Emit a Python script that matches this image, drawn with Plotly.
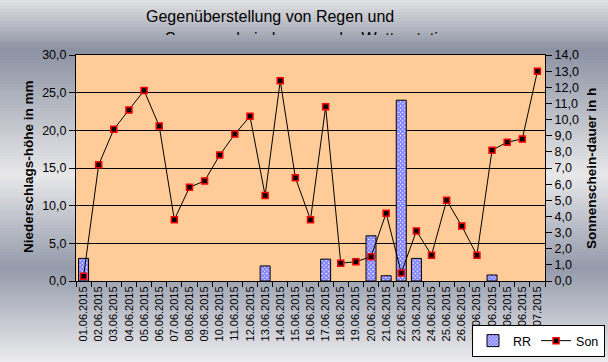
import plotly.graph_objects as go

dates = ["01.06.2015", "02.06.2015", "03.06.2015", "04.06.2015", "05.06.2015",
         "06.06.2015", "07.06.2015", "08.06.2015", "09.06.2015", "10.06.2015",
         "11.06.2015", "12.06.2015", "13.06.2015", "14.06.2015", "15.06.2015",
         "16.06.2015", "17.06.2015", "18.06.2015", "19.06.2015", "20.06.2015",
         "21.06.2015", "22.06.2015", "23.06.2015", "24.06.2015", "25.06.2015",
         "26.06.2015", "27.06.2015", "28.06.2015", "29.06.2015", "30.06.2015",
         "01.07.2015"]
rr = [3.0, 0, 0, 0, 0, 0, 0, 0, 0, 0, 0, 0, 2.0, 0, 0, 0, 2.9, 0, 0, 6.0,
      0.7, 24.0, 3.0, 0, 0, 0, 0, 0.8, 0, 0, 0]
son = [0.3, 7.2, 9.4, 10.6, 11.8, 9.6, 3.8, 5.8, 6.2, 7.8, 9.1, 10.2, 5.3, 12.4,
       6.4, 3.8, 10.8, 1.1, 1.2, 1.5, 4.2, 0.5, 3.1, 1.6, 5.0, 3.4, 1.6, 8.1,
       8.6, 8.8, 13.0]
title1 = "Gegenüberstellung von Regen und"
title2 = "Sonnenscheindauer an der Wetterstation"

W, H = 608, 362
ML, MR, MT, MB = 76, 63, 20, 81
PW = W - ML - MR
PH = H - MT - MB
FONT = "Liberation Sans, Arial, sans-serif"


def px2py(py):
    return 1 - (py - MT) / PH


def px2px(px):
    return (px - ML) / PW


main_top = px2py(55)

# background gradient (styling)
stops = [(0, (226, 226, 228)), (50, (140, 146, 162)), (175, (232, 232, 234)),
         (268, (148, 154, 170)), (362, (236, 236, 238))]


def grad(y):
    for (y0, c0), (y1, c1) in zip(stops[:-1], stops[1:]):
        if y0 <= y <= y1:
            t = (y - y0) / (y1 - y0)
            return "rgb(%d,%d,%d)" % tuple(round(a + (b - a) * t) for a, b in zip(c0, c1))
    return "rgb(236,236,238)"


shapes = []
step = 3
for y in range(0, H, step):
    shapes.append(dict(type="rect", xref="paper", yref="paper", layer="below",
                       x0=px2px(-2), x1=px2px(W + 2), y0=px2py(y + step + 0.5), y1=px2py(y),
                       line=dict(width=0), fillcolor=grad(y + step / 2)))
shapes.append(dict(type="rect", xref="x domain", yref="y domain", layer="below",
                   x0=0, x1=1, y0=0, y1=1, line=dict(width=0), fillcolor="#ffcc99"))

bar_outline = [1 if v > 0 else 0 for v in rr]

fig = go.Figure()
fig.add_trace(go.Bar(
    x=dates, y=rr, name="RR", yaxis="y", xaxis="x",
    marker=dict(color="white", line=dict(color="black", width=bar_outline),
                pattern=dict(shape="x", size=3, solidity=0.8, fgcolor="#0000ff",
                             bgcolor="white", fillmode="overlay")),
))
fig.add_trace(go.Scatter(
    x=dates, y=son, name="Son", yaxis="y2", xaxis="x", mode="lines+markers",
    line=dict(color="black", width=1),
    marker=dict(symbol="square", size=6, color="black", line=dict(color="red", width=1.5)),
))
# clipped second title line
fig.add_trace(go.Scatter(
    x=[165], y=[-0.3], text=[title2], mode="text", xaxis="x3", yaxis="y3",
    textposition="middle right", textfont=dict(family=FONT, size=16, color="black"),
    showlegend=False, hoverinfo="skip", cliponaxis=True,
))

axis_font = dict(family=FONT, size=12.5, color="black")
fig.update_layout(
    width=W, height=H,
    margin=dict(l=ML, r=MR, t=MT, b=MB, pad=0, autoexpand=False),
    paper_bgcolor="rgba(0,0,0,0)", plot_bgcolor="rgba(0,0,0,0)",
    separators=",.",
    bargap=0.34,
    shapes=shapes,
    font=dict(family=FONT, color="black"),
    xaxis=dict(type="category", domain=[0, 1], anchor="y", tickangle=-90,
               range=[-0.5, len(dates) - 0.5],
               tickfont=dict(family=FONT, size=11, color="black"),
               ticks="outside", ticklen=5, tickcolor="black", tickson="boundaries",
               showline=True, linecolor="black", linewidth=1, mirror=True,
               showgrid=False, fixedrange=True, automargin=False),
    yaxis=dict(domain=[0, main_top], range=[0, 30], dtick=5, tickformat=".1f",
               tickfont=axis_font, ticks="outside", ticklen=6, tickcolor="black",
               showline=True, linecolor="black", linewidth=1, mirror=True,
               showgrid=True, gridcolor="black", gridwidth=1, zeroline=False,
               automargin=False),
    yaxis2=dict(overlaying="y", side="right", range=[0, 14], dtick=1, tickformat=".1f",
                tickfont=axis_font, ticks="outside", ticklen=6, tickcolor="black",
                showline=True, linecolor="black", linewidth=1,
                showgrid=False, zeroline=False, automargin=False),
    xaxis3=dict(domain=[0, 1], anchor="y3", range=[ML, W - MR], visible=False),
    yaxis3=dict(domain=[px2py(35), 1], anchor="x3", range=[0, 1], visible=False),
    legend=dict(orientation="h", x=px2px(605), y=px2py(357), xanchor="right", yanchor="bottom",
                bgcolor="white", bordercolor="black", borderwidth=1,
                font=dict(family=FONT, size=12.5, color="black"), itemwidth=30,
                tracegroupgap=0),
    showlegend=True,
    annotations=[
        dict(text=title1, x=px2px(270), y=px2py(17), xref="paper", yref="paper",
             xanchor="center", yanchor="middle", showarrow=False,
             font=dict(family=FONT, size=16, color="black")),
        dict(text="<b>Niederschlags-höhe in mm</b>", x=px2px(28), y=px2py(167),
             xref="paper", yref="paper", textangle=-90, showarrow=False,
             xanchor="center", yanchor="middle",
             font=dict(family=FONT, size=13.5, color="black")),
        dict(text="<b>Sonnenschein-dauer in h</b>", x=px2px(591), y=px2py(169),
             xref="paper", yref="paper", textangle=-90, showarrow=False,
             xanchor="center", yanchor="middle",
             font=dict(family=FONT, size=13.5, color="black")),
    ],
)

fig.write_html("out.html", config={"displayModeBar": False},
               post_script="document.body.style.margin='0px';document.body.style.overflow='hidden';")
